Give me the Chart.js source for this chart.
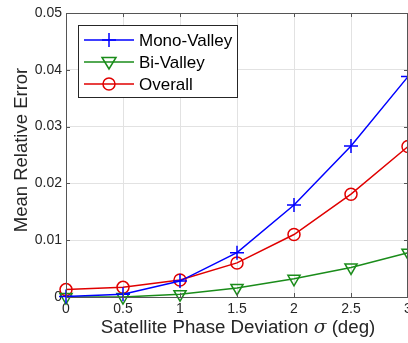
<!DOCTYPE html>
<html><head><meta charset="utf-8">
<script src="https://cdn.jsdelivr.net/npm/chart.js@4/dist/chart.umd.min.js"></script>
<style>
html,body{margin:0;padding:0;background:#fff;overflow:hidden;}
#wrap{width:440px;height:343px;position:relative;}
</style></head>
<body>
<div id="wrap"><canvas id="c"></canvas></div>
<script>
const xValues = [0, 0.5, 1, 1.5, 2, 2.5, 3];
const monoValley = [0.0001, 0.0005, 0.0028, 0.0078, 0.0162, 0.0266, 0.0388];
const biValley   = [0.0000, 0.0000, 0.0005, 0.0016, 0.0032, 0.0052, 0.0078];
const overall    = [0.0013, 0.0017, 0.0030, 0.0060, 0.0110, 0.0181, 0.0265];
const xTickLabels = ['0', '0.5', '1', '1.5', '2', '2.5', '3'];
const yTickLabels = ['0', '0.01', '0.02', '0.03', '0.04', '0.05'];
const seriesNames = ['Mono-Valley', 'Bi-Valley', 'Overall'];
const xTitleParts = ['Satellite Phase Deviation ', 'σ', ' (deg)'];
const yTitle = 'Mean Relative Error';

const FONT = '"Liberation Sans", Arial, Helvetica, sans-serif';
const BLUE = '#0000ff', GREEN = '#1a8c1a', RED = '#e00000';

function pts(arr){ return arr.map((v,i)=>({x:xValues[i], y:v})); }

const extras = {
  id: 'extras',
  afterDraw(chart){
    const ctx = chart.ctx, a = chart.chartArea;
    const xs = chart.scales.x, ys = chart.scales.y;
    ctx.save();
    // box
    ctx.strokeStyle = '#555';
    ctx.lineWidth = 1;
    ctx.strokeRect(a.left+0.5, a.top+0.5, a.right-a.left-1, a.bottom-a.top);
    // inward ticks
    ctx.beginPath();
    xTickLabels.forEach((t,i)=>{
      const px = Math.round(xs.getPixelForValue(xValues[i]))+0.5;
      ctx.moveTo(px, a.bottom); ctx.lineTo(px, a.bottom-4);
      ctx.moveTo(px, a.top); ctx.lineTo(px, a.top+4);
    });
    yTickLabels.forEach((t,i)=>{
      const py = Math.round(ys.getPixelForValue(i*0.01))+0.5;
      ctx.moveTo(a.left, py); ctx.lineTo(a.left+4, py);
      ctx.moveTo(a.right, py); ctx.lineTo(a.right-4, py);
    });
    ctx.stroke();
    // x title
    ctx.fillStyle = '#262626';
    ctx.textBaseline = 'middle';
    const f1 = '18.7px ' + FONT, f2 = 'italic 18.7px "DejaVu Serif", serif';
    ctx.font = f1; const w0 = ctx.measureText(xTitleParts[0]).width, w2 = ctx.measureText(xTitleParts[2]).width;
    ctx.font = f2; const w1 = ctx.measureText(xTitleParts[1]).width;
    const cx = 238, total = w0+w1+w2;
    let x0 = cx - total/2, ty = 328;
    ctx.textAlign = 'left';
    ctx.font = f1; ctx.fillText(xTitleParts[0], x0, ty);
    ctx.font = f2; ctx.fillText(xTitleParts[1], x0+w0, ty);
    ctx.font = f1; ctx.fillText(xTitleParts[2], x0+w0+w1, ty);
    // y title
    ctx.save();
    ctx.translate(22, 150);
    ctx.rotate(-Math.PI/2);
    ctx.textAlign = 'center';
    ctx.font = '18.5px ' + FONT;
    ctx.fillText(yTitle, 0, 0);
    ctx.restore();
    // legend
    const lx = 78, ly = 25, lw = 159, lh = 72;
    ctx.fillStyle = '#fff';
    ctx.fillRect(lx, ly, lw, lh);
    ctx.strokeStyle = '#262626'; ctx.lineWidth = 1;
    ctx.strokeRect(lx+0.5, ly+0.5, lw, lh);
    chart.data.datasets.forEach((ds, i) => {
      const yy = ly + 15 + i*22;
      ctx.strokeStyle = ds.borderColor; ctx.lineWidth = 1.5;
      ctx.beginPath(); ctx.moveTo(lx+6, yy); ctx.lineTo(lx+56, yy); ctx.stroke();
      const mx = lx+31;
      ctx.beginPath();
      if (i===0){ ctx.moveTo(mx-7,yy); ctx.lineTo(mx+7,yy); ctx.moveTo(mx,yy-7); ctx.lineTo(mx,yy+7); }
      else if (i===1){ ctx.moveTo(mx-7,yy-4.5); ctx.lineTo(mx+7,yy-4.5); ctx.lineTo(mx,yy+7); ctx.closePath(); }
      else { ctx.arc(mx, yy, 6, 0, Math.PI*2); }
      ctx.stroke();
      ctx.fillStyle = '#000';
      ctx.font = '17px ' + FONT;
      ctx.textAlign = 'left'; ctx.textBaseline = 'middle';
      ctx.fillText(ds.label, lx+61, yy+1);
    });
    ctx.restore();
  }
};

new Chart(document.getElementById('c'), {
  type: 'line',
  data: {
    datasets: [
      {label: seriesNames[0], data: pts(monoValley), borderColor: BLUE, backgroundColor: 'rgba(0,0,0,0)',
       pointStyle: 'cross', pointRadius: 7, pointBorderWidth: 1.5, borderWidth: 1.5, clip: false},
      {label: seriesNames[1], data: pts(biValley), borderColor: GREEN, backgroundColor: 'rgba(0,0,0,0)',
       pointStyle: 'triangle', pointRotation: 180, pointRadius: 7, pointBorderWidth: 1.5, borderWidth: 1.5, clip: false},
      {label: seriesNames[2], data: pts(overall), borderColor: RED, backgroundColor: 'rgba(0,0,0,0)',
       pointStyle: 'circle', pointRadius: 6, pointBorderWidth: 1.5, borderWidth: 1.5, clip: false}
    ]
  },
  options: {
    responsive: true, maintainAspectRatio: false, animation: false,
    layout: {padding: {left: 0, top: 13, right: 32, bottom: 0}},
    plugins: {legend: {display: false}, tooltip: {enabled: false}},
    elements: {line: {tension: 0}},
    scales: {
      x: {type: 'linear', min: 0, max: 3,
          afterFit: s => { s.height = 46; },
          afterBuildTicks: s => { s.ticks = xValues.map(v => ({value: v})); },
          ticks: {callback: (v, i) => xTickLabels[i], color: '#262626', font: {size: 14, family: FONT}, padding: 4, maxRotation: 0, autoSkip: false},
          grid: {color: '#e2e2e2', drawTicks: false}, border: {color: '#555', width: 1}},
      y: {type: 'linear', min: 0, max: 0.05,
          afterFit: s => { s.width = 66; },
          afterBuildTicks: s => { s.ticks = yTickLabels.map((t, i) => ({value: i*0.01})); },
          ticks: {callback: (v, i) => yTickLabels[i], color: '#262626', font: {size: 14, family: FONT}, padding: 4},
          grid: {color: '#e2e2e2', drawTicks: false}, border: {color: '#555', width: 1}}
    }
  },
  plugins: [extras]
});
</script>
</body></html>
